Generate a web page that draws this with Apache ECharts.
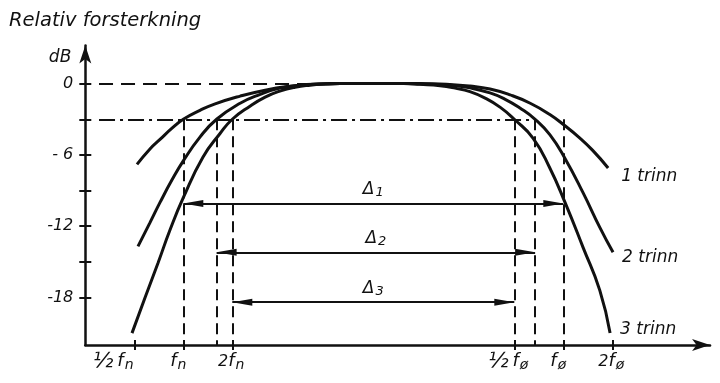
<!DOCTYPE html>
<html>
<head>
<meta charset="utf-8">
<script src="https://cdn.jsdelivr.net/npm/echarts@6/dist/echarts.min.js"></script>
<style>
  html, body { margin: 0; padding: 0; background: #fff; }
  #chart { width: 720px; height: 383px; }
</style>
</head>
<body>
<div id="chart"></div>
<script>
// Relative gain of a band-pass amplifier with 1, 2 and 3 identical stages.
// x: frequency in octaves above the lower cut-off fn (log2 f/fn), y: gain in dB.

const trinn1X  = [-0.945, -0.68, -0.475, -0.23, 0, 0.34, 0.65, 1.16, 1.67, 2.18, 2.59, 3.0, 4.8, 5.44, 5.85, 6.26, 6.67, 7.08, 7.48, 7.79, 8.07, 8.35, 8.67];
const trinn1Db = [-6.8, -5.5, -4.7, -3.75, -3, -2.25, -1.7, -1.05, -0.55, -0.22, -0.08, 0, 0, -0.07, -0.21, -0.46, -0.95, -1.65, -2.6, -3.55, -4.5, -5.6, -7.1];

const trinn2X  = [-0.925, -0.68, -0.475, -0.23, 0, 0.34, 0.68, 1.16, 1.57, 1.97, 2.38, 2.79, 3.2, 4.6, 5.03, 5.44, 5.85, 6.26, 6.56, 6.87, 7.18, 7.48, 7.79, 8.16, 8.5, 8.77];
const trinn2Db = [-13.7, -11.7, -10.0, -8.1, -6.5, -4.5, -3, -1.65, -0.9, -0.38, -0.13, -0.04, 0, 0, -0.06, -0.13, -0.36, -0.78, -1.3, -2.05, -3, -4.3, -6.3, -9.2, -12.1, -14.2];

const trinn3X  = [-1.047, -0.78, -0.516, -0.27, 0, 0.40, 0.75, 1.0, 1.36, 1.67, 1.97, 2.28, 2.59, 2.9, 3.2, 4.5, 4.83, 5.24, 5.55, 5.85, 6.16, 6.47, 6.755, 7.14, 7.48, 7.79, 8.16, 8.5, 8.71];
const trinn3Db = [-21.0, -18.0, -15.1, -12.3, -9.6, -6.2, -4.2, -3, -1.9, -1.14, -0.63, -0.3, -0.13, -0.04, 0, 0, -0.06, -0.17, -0.38, -0.68, -1.22, -2.0, -3, -4.6, -7.1, -10.0, -13.8, -17.4, -21.0];

const seriesNames = ['1 trinn', '2 trinn', '3 trinn'];

// -3 dB cut-off frequencies (octaves) for 1, 2, 3 stages
const cutLow  = [0, 0.68, 1];
const cutHigh = [7.755, 7.18, 6.755];
// height (dB) of the bandwidth arrows Δ1, Δ2, Δ3
const deltaDb = [-10.1, -14.2, -18.4];
const deltaNames = ['1', '2', '3'];

// frequency axis tick marks and their labels
const xTickPos  = [-1, 0, 1, 6.755, 7.755, 8.755];
const xTickMult = ['½', '', '2', '½', '', '2'];
const xTickSub  = ['n', 'n', 'n', 'ø', 'ø', 'ø'];

// gain axis ticks and labels
const yTickPos   = [0, -3, -6, -9, -12, -15, -18];
const yLabelPos  = [0, -6, -12, -18];
const yLabelText = ['0', '- 6', '-12', '-18'];

const INK = '#111';
const FONT = 'DejaVu Sans';
const xMin = -2, xMax = 10.75, yMin = -22, yMax = 3.2;
const GRID = { left: 85.3, right: 9.95, top: 45.6, bottom: 38 };
const gridW = 720 - GRID.left - GRID.right;
const gridH = 383 - GRID.top - GRID.bottom;

function pairs(xs, ys) { return xs.map((x, i) => [x, ys[i]]); }

// extra right padding per label, so each label sits where it is lettered
const labelPad = [42, 10, 2, 12, 10, 2];

const chart = echarts.init(document.getElementById('chart'), null, { renderer: 'canvas' });

const italic = { color: INK, fontFamily: FONT, fontStyle: 'italic' };

const curveSeries = [pairs(trinn1X, trinn1Db), pairs(trinn2X, trinn2Db), pairs(trinn3X, trinn3Db)].map((d, i) => ({
  name: seriesNames[i],
  type: 'line',
  data: d,
  smooth: 0.5,
  symbol: 'none',
  silent: true,
  animation: false,
  lineStyle: { color: INK, width: 3 },
  endLabel: {
    show: true,
    formatter: seriesNames[i],
    offset: [[5, 9], [1, 5], [2, -4]][i],
    ...italic,
    fontSize: 17
  },
  z: 5
}));

const guideLines = [];
// 0 dB reference
guideLines.push([{ coord: [-1.72, 0], lineStyle: { type: [14, 8], width: 2, color: INK } }, { coord: [2.6, 0] }]);
// -3 dB reference
guideLines.push([{ coord: [-1.72, -3], lineStyle: { type: [16, 5, 3, 5], width: 2, color: INK } }, { coord: [7.2, -3] }]);
// cut-off verticals
cutLow.concat(cutHigh).forEach(x => {
  guideLines.push([{ coord: [x, -3], lineStyle: { type: [11, 6], width: 2, color: INK } }, { coord: [x, yMin] }]);
});

const deltaLines = deltaDb.map((y, i) => [
  { coord: [cutLow[i], y], name: deltaNames[i] },
  { coord: [cutHigh[i], y] }
]);

const tickStyle = { color: INK, width: 2 };

const option = {
  backgroundColor: '#fff',
  animation: false,
  title: {
    text: 'Relativ forsterkning',
    left: 4,
    top: 6,
    textStyle: { ...italic, fontSize: 19.5, fontWeight: 'normal' }
  },
  grid: { ...GRID, containLabel: false },
  xAxis: [{
    type: 'value',
    position: 'bottom',
    min: xMin, max: xMax,
    axisLine: { show: true, onZero: false, lineStyle: { color: INK, width: 2.5 }, symbol: ['none', 'arrow'], symbolSize: [9, 18] },
    splitLine: { show: false },
    axisTick: { show: true, customValues: xTickPos, length: 5, lineStyle: tickStyle },
    axisLabel: {
      show: true,
      customValues: xTickPos,
      margin: 6,
      formatter: function (v) {
        const i = xTickPos.findIndex(p => Math.abs(p - v) < 1e-6);
        if (i < 0) return '';
        let s = '';
        if (xTickMult[i] === '½') s += '{fr|½}';
        else if (xTickMult[i]) s += '{m|' + xTickMult[i] + '}';
        s += '{f|f}{s|' + xTickSub[i] + '}';
        s += '{p' + i + '| }';
        return s;
      },
      rich: Object.assign({
        fr: { ...italic, fontSize: 21, padding: [0, 4, 0, 0] },
        m:  { ...italic, fontSize: 16 },
        f:  { ...italic, fontSize: 18 },
        s:  { ...italic, fontSize: 14, padding: [7, 0, 0, 1] }
      }, Object.fromEntries(labelPad.map((w, i) => ['p' + i, { width: w, fontSize: 10 }])))
    }
  }, {
    // upper half of the frequency ticks (crossing the axis line)
    type: 'value',
    position: 'top',
    offset: -(gridH - 5),
    min: xMin, max: xMax,
    axisLine: { show: false, onZero: false },
    splitLine: { show: false },
    axisTick: { show: true, inside: true, customValues: xTickPos, length: 5, lineStyle: tickStyle },
    axisLabel: { show: false }
  }],
  yAxis: [{
    type: 'value',
    position: 'left',
    min: yMin, max: yMax,
    name: 'dB',
    nameLocation: 'end',
    nameGap: -12,
    nameTextStyle: { ...italic, fontSize: 17, align: 'right', verticalAlign: 'middle', padding: [0, 14, 0, 0] },
    axisLine: { show: true, onZero: false, lineStyle: { color: INK, width: 2.5 }, symbol: ['none', 'arrow'], symbolSize: [9, 18] },
    splitLine: { show: false },
    axisTick: { show: true, customValues: yTickPos, length: 6, lineStyle: tickStyle },
    axisLabel: {
      show: true,
      customValues: yLabelPos,
      margin: 12,
      ...italic,
      fontSize: 16,
      formatter: function (v) {
        const i = yLabelPos.indexOf(v);
        return i < 0 ? '' : yLabelText[i];
      }
    }
  }, {
    // right half of the gain ticks (crossing the axis line)
    type: 'value',
    position: 'right',
    offset: -(gridW - 6),
    min: yMin, max: yMax,
    axisLine: { show: false, onZero: false },
    splitLine: { show: false },
    axisTick: { show: true, inside: true, customValues: yTickPos, length: 6, lineStyle: tickStyle },
    axisLabel: { show: false }
  }],
  series: curveSeries.concat([{
    name: 'guides',
    type: 'line',
    data: [],
    silent: true,
    markLine: {
      silent: true,
      animation: false,
      symbol: ['none', 'none'],
      label: { show: false },
      data: guideLines
    }
  }, {
    name: 'bandwidth',
    type: 'line',
    data: [],
    silent: true,
    markLine: {
      silent: true,
      animation: false,
      symbol: ['triangle', 'triangle'],
      symbolSize: [7, 20],
      symbolOffset: [[0, 10], [0, 10]],
      lineStyle: { type: 'solid', color: INK, width: 2 },
      label: {
        show: true,
        position: 'middle',
        distance: 4,
        formatter: p => '{d|Δ}{s|' + p.name + '}',
        rich: {
          d: { ...italic, fontSize: 17 },
          s: { ...italic, fontSize: 13, padding: [7, 0, 0, 1] }
        }
      },
      data: deltaLines
    }
  }])
};

chart.setOption(option);
</script>
</body>
</html>
